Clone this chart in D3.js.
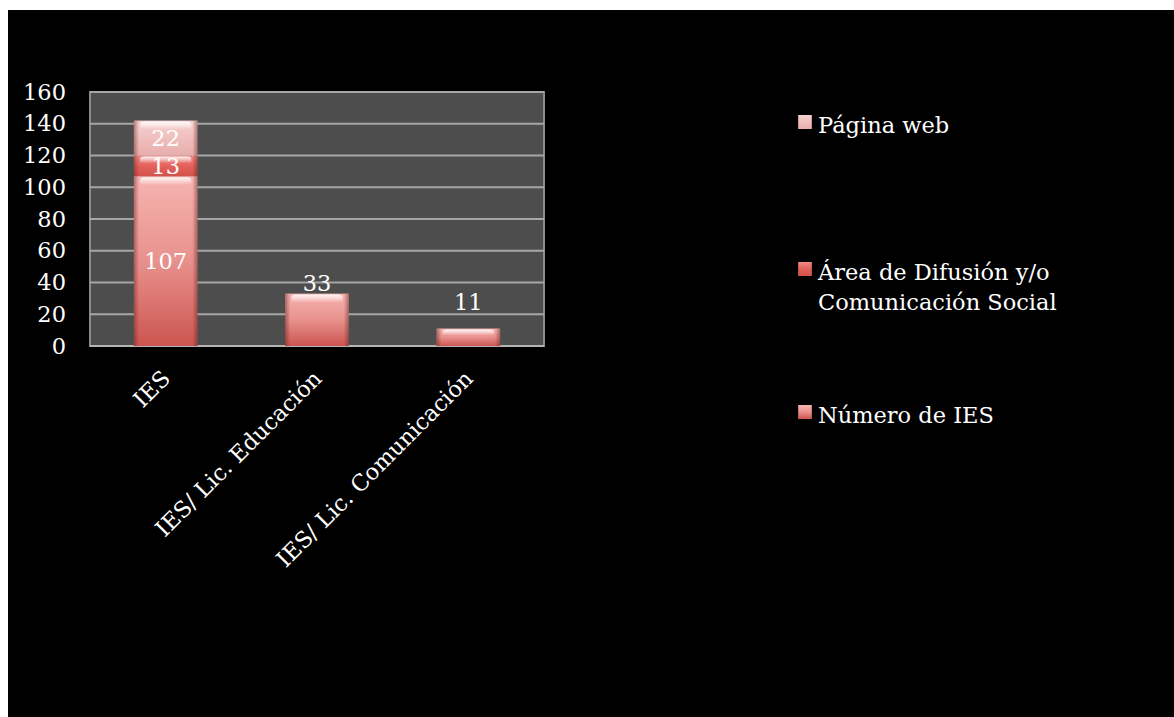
<!DOCTYPE html>
<html>
<head>
<meta charset="utf-8">
<script src="https://cdn.jsdelivr.net/npm/d3@7"></script>
<style>
  html, body { margin: 0; padding: 0; background: #fff; }
  svg { display: block; }
  text { font-family: "DejaVu Serif", "Liberation Serif", serif; fill: #fff; }
</style>
</head>
<body>
<div id="chart"></div>
<script>
// stacked bar chart - IES / difusión

const categories = ["IES", "IES/ Lic. Educación", "IES/ Lic. Comunicación"];
const seriesNames = ["Número de IES", "Área de Difusión y/o Comunicación Social", "Página web"];
const numeroIES = [107, 33, 11];
const areaDifusion = [13, 0, 0];
const paginaWeb = [22, 0, 0];
const yTicks = [0, 20, 40, 60, 80, 100, 120, 140, 160];
const legendLines = [["Página web"], ["Área de Difusión y/o", "Comunicación Social"], ["Número de IES"]];

const width = 1174, height = 717;
const plot = { left: 90, right: 544, top: 92, bottom: 346 };
const fontSize = "22.5px";

const svg = d3.select("#chart").append("svg")
    .attr("width", width)
    .attr("height", height);

// black slide background
svg.append("rect")
    .attr("x", 8).attr("y", 10)
    .attr("width", width - 8).attr("height", height - 10)
    .attr("fill", "#000");

const defs = svg.append("defs");

function addGradient(id, stops, horizontal) {
    const g = defs.append("linearGradient").attr("id", id)
        .attr("x1", 0).attr("y1", 0)
        .attr("x2", horizontal ? 1 : 0).attr("y2", horizontal ? 0 : 1);
    stops.forEach(s => g.append("stop").attr("offset", s[0]).attr("stop-color", s[1]).attr("stop-opacity", s[2] === undefined ? 1 : s[2]));
}
addGradient("g-numero", [[0, "#f7b4b1"], [0.5, "#e8918d"], [1, "#cc5550"]]);
addGradient("g-area", [[0, "#f08a85"], [0.5, "#e4625c"], [1, "#d3514b"]]);
addGradient("g-pagina", [[0, "#f6d2d0"], [1, "#e7adab"]]);
addGradient("g-edge", [[0, "#5a1a18", 0.45], [0.08, "#5a1a18", 0], [0.92, "#5a1a18", 0], [1, "#5a1a18", 0.45]], true);
addGradient("g-top", [[0, "#ffffff", 0.9], [1, "#ffffff", 0]]);

const fills = ["url(#g-numero)", "url(#g-area)", "url(#g-pagina)"];

const data = categories.map((c, i) => ({
    cat: c,
    "Número de IES": numeroIES[i],
    "Área de Difusión y/o Comunicación Social": areaDifusion[i],
    "Página web": paginaWeb[i]
}));
const stacked = d3.stack().keys(seriesNames)(data);

const x = d3.scaleBand().domain(categories).range([plot.left, plot.right]).paddingInner(0.58).paddingOuter(0.29);
const y = d3.scaleLinear().domain([0, 160]).range([plot.bottom, plot.top]);

// plot area
svg.append("rect")
    .attr("x", plot.left).attr("y", plot.top)
    .attr("width", plot.right - plot.left).attr("height", plot.bottom - plot.top)
    .attr("fill", "#4d4d4d")
    .attr("stroke", "#8c8c8c").attr("stroke-width", 2);

svg.append("g").selectAll("line")
    .data(yTicks)
    .enter().append("line")
    .attr("x1", plot.left).attr("x2", plot.right)
    .attr("y1", d => y(d)).attr("y2", d => y(d))
    .attr("stroke", d => d === 0 ? "#b4b4b4" : "#a6a6a6")
    .attr("stroke-width", 2);

// y labels
const yAxis = svg.append("g")
    .attr("transform", `translate(${plot.left - 24},0)`)
    .call(d3.axisLeft(y).tickValues(yTicks).tickSize(0).tickPadding(0));
yAxis.select(".domain").remove();
yAxis.selectAll("text")
    .style("font-family", "DejaVu Serif, serif")
    .style("font-size", fontSize)
    .attr("fill", "#fff");

// bars
const bars = svg.append("g");
stacked.forEach((layer, li) => {
    const grp = bars.append("g");
    const segs = layer.filter(d => d[1] > d[0]);
    grp.selectAll("rect.seg")
        .data(segs).enter().append("rect")
        .attr("class", "seg")
        .attr("x", d => x(d.data.cat))
        .attr("y", d => y(d[1]))
        .attr("width", x.bandwidth())
        .attr("height", d => y(d[0]) - y(d[1]))
        .attr("fill", fills[li]);
    grp.selectAll("rect.edge")
        .data(segs).enter().append("rect")
        .attr("class", "edge")
        .attr("x", d => x(d.data.cat))
        .attr("y", d => y(d[1]))
        .attr("width", x.bandwidth())
        .attr("height", d => y(d[0]) - y(d[1]))
        .attr("fill", "url(#g-edge)");
    grp.selectAll("rect.hl")
        .data(segs).enter().append("rect")
        .attr("class", "hl")
        .attr("x", d => x(d.data.cat) + 6)
        .attr("y", d => y(d[1]) + 1)
        .attr("rx", 4)
        .attr("width", x.bandwidth() - 12)
        .attr("height", d => Math.min(8, (y(d[0]) - y(d[1])) / 3))
        .attr("fill", "url(#g-top)");
});

// value labels
const labels = svg.append("g").style("font-size", fontSize);
stacked.forEach(layer => {
    layer.filter(d => d[1] > d[0]).forEach(d => {
        const h = y(d[0]) - y(d[1]);
        const inside = d.data.cat === "IES";
        const lift = d[1] - d[0] > 20 ? 11 : 27;
        labels.append("text")
            .attr("x", x(d.data.cat) + x.bandwidth() / 2)
            .attr("y", inside ? y(d[1]) + h / 2 : y(d[1]) - lift)
            .attr("dy", "0.36em")
            .attr("text-anchor", "middle")
            .text(d[1] - d[0]);
    });
});

// x labels
svg.append("g").selectAll("text")
    .data(categories).enter().append("text")
    .attr("transform", d => `translate(${x(d) + x.bandwidth() / 2 - 2},372) rotate(-45)`)
    .attr("text-anchor", "end")
    .attr("dy", "0.5em")
    .style("font-size", fontSize)
    .text(d => d);

// legend
const legendFill = ["url(#g-pagina)", "url(#g-area)", "url(#g-numero)"];
const legendY = [125, 272, 415];
const legend = svg.append("g");
legendLines.forEach((lines, i) => {
    legend.append("rect")
        .attr("x", 798).attr("y", legendY[i] - 10)
        .attr("width", 14).attr("height", 14)
        .attr("fill", legendFill[i]);
    legend.append("rect")
        .attr("x", 798).attr("y", legendY[i] - 10)
        .attr("width", 14).attr("height", 14)
        .attr("fill", "url(#g-edge)");
    lines.forEach((ln, j) => {
        legend.append("text")
            .attr("x", 818)
            .attr("y", legendY[i] + j * 30)
            .attr("dy", "0.36em")
            .style("font-size", fontSize)
            .text(ln);
    });
});
</script>
</body>
</html>
